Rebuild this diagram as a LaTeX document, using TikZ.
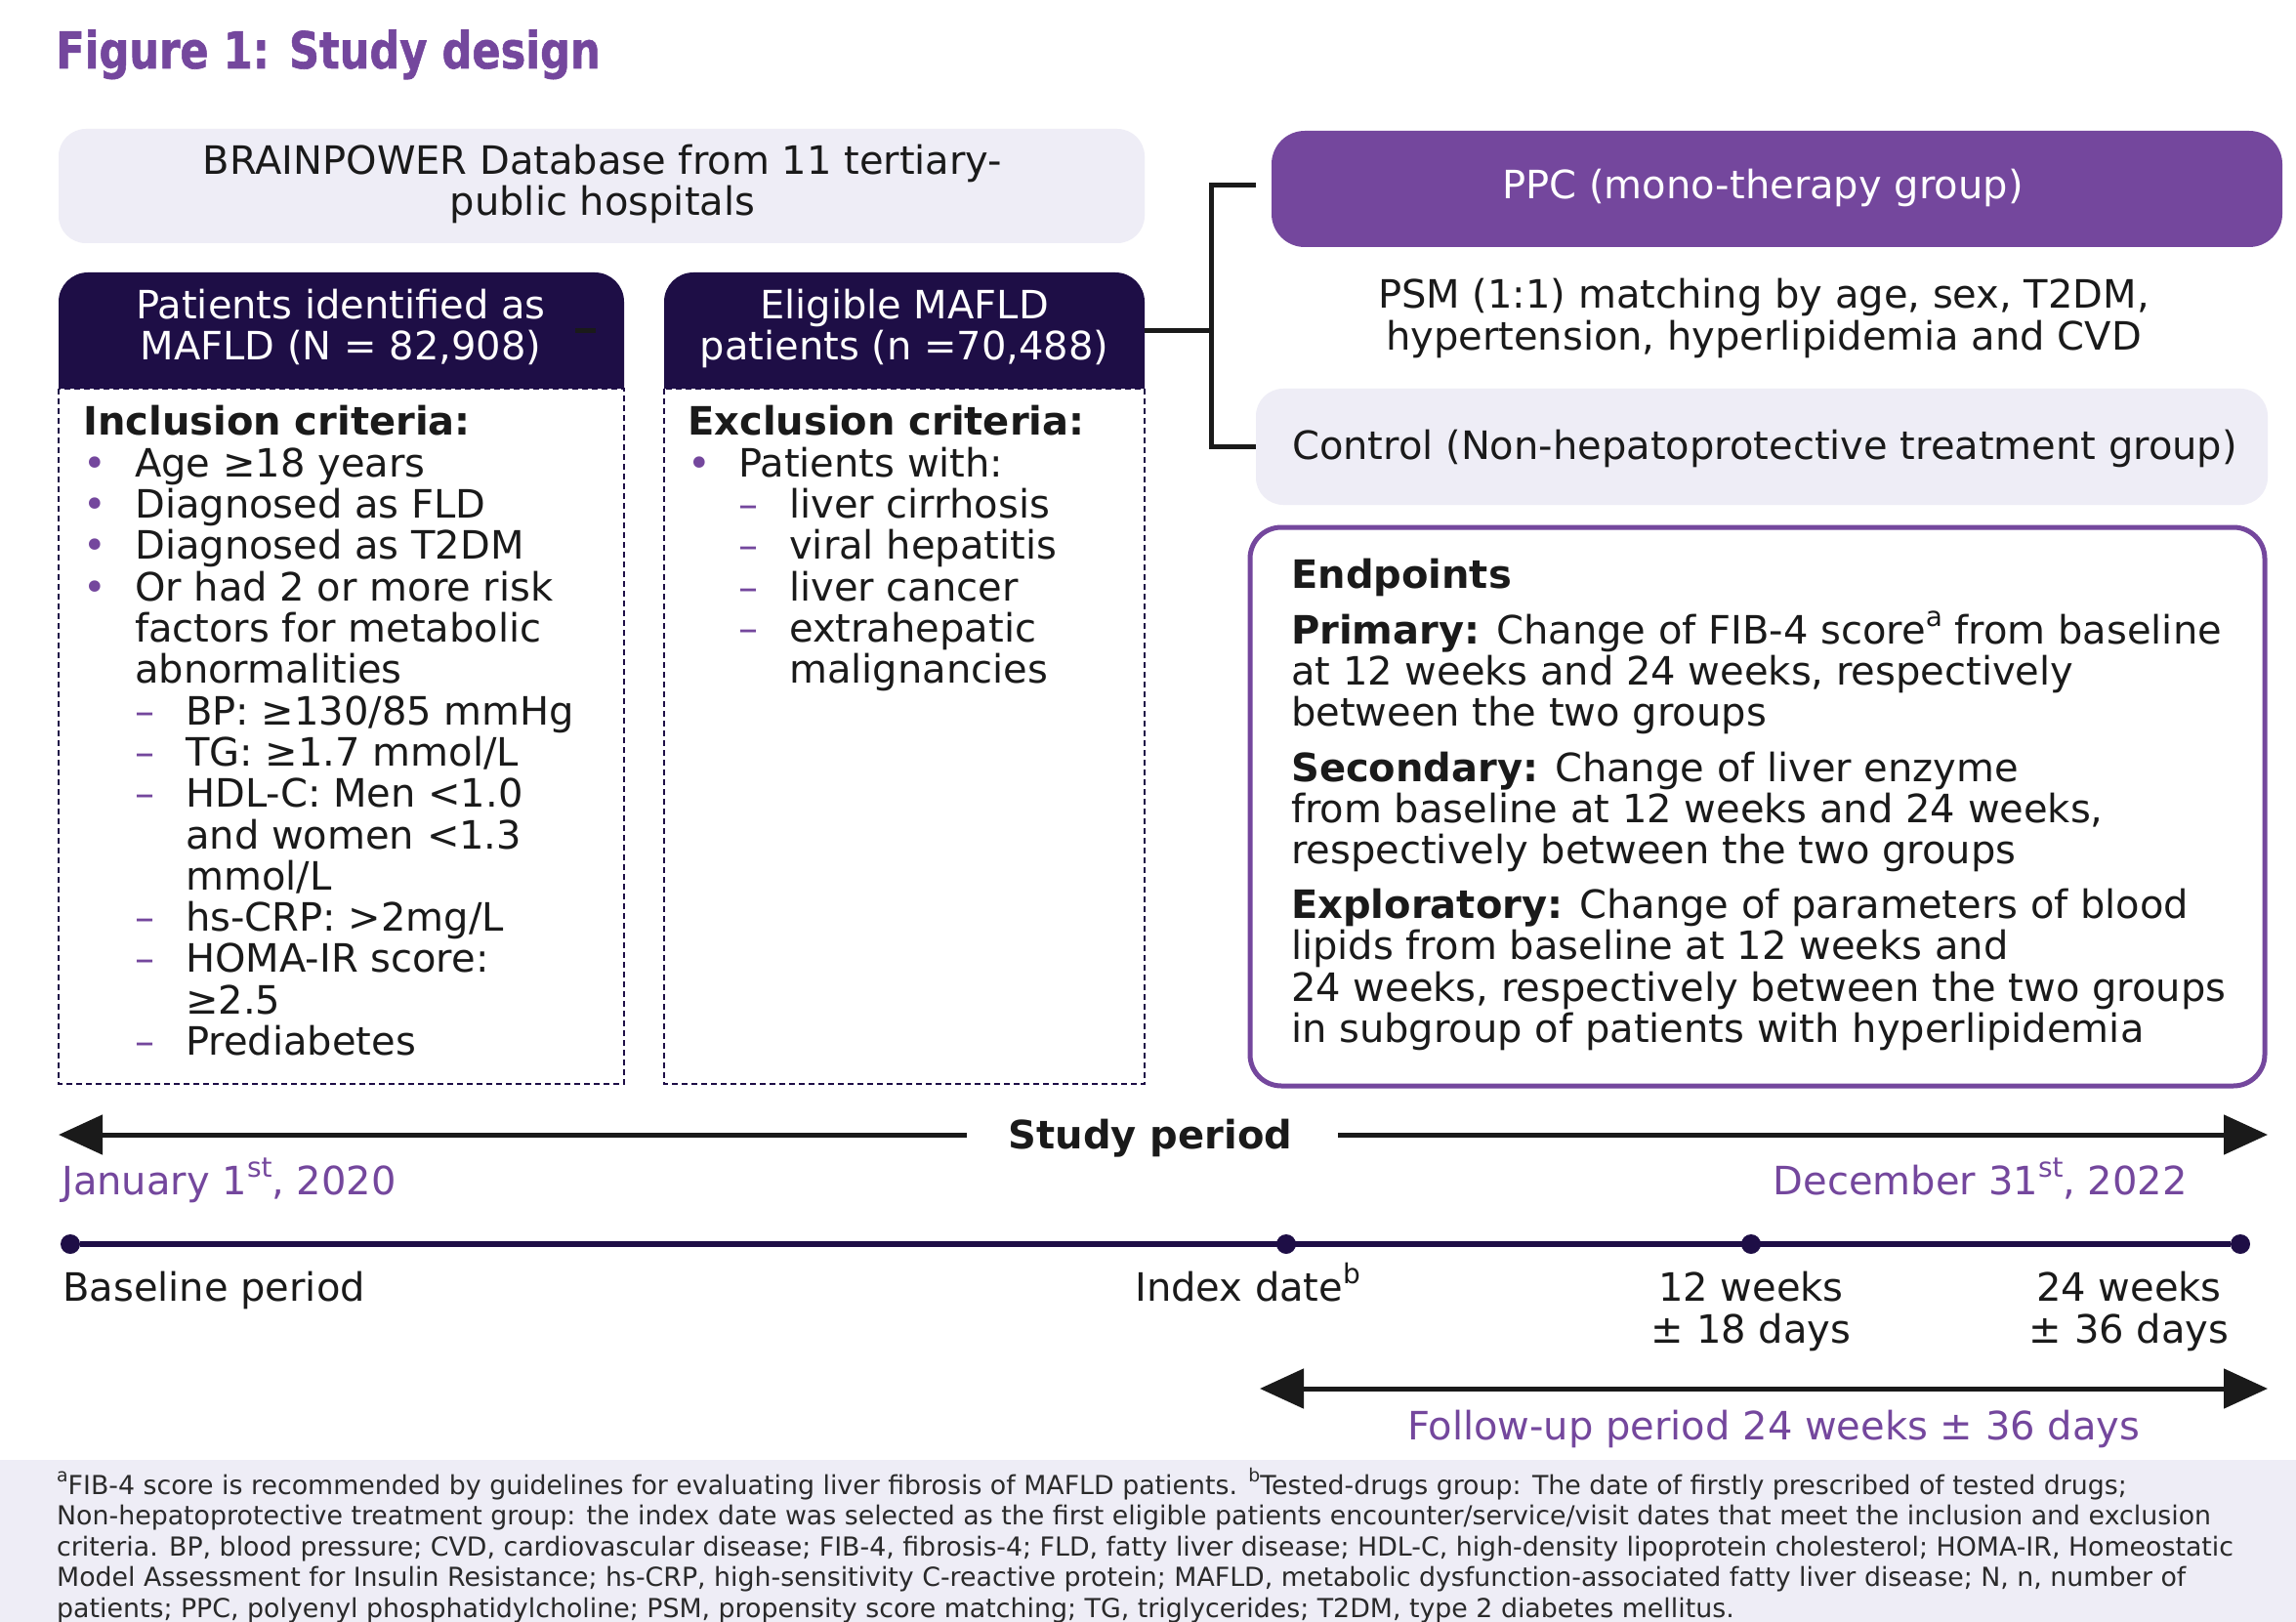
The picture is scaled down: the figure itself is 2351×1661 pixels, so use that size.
\documentclass[tikz,border=0pt]{standalone}
\usepackage{fontspec}
\setmainfont{DejaVu Sans}
\newfontfamily\titlefont{DejaVu Sans Bold}[FakeBold=1.2]
\usepackage{graphicx}
\usetikzlibrary{arrows.meta}
\definecolor{ppurple}{HTML}{74479D}
\definecolor{navy}{HTML}{1E0E46}
\definecolor{lav}{HTML}{EEEDF6}
\definecolor{tblack}{HTML}{1A1A1A}
\definecolor{fgray}{HTML}{2A2A2A}
\newcommand\supr[1]{\raisebox{0.45em}{\scalebox{0.7}{#1}}}
\newcommand\pp{\color{ppurple}}
\begin{document}
\begin{tikzpicture}[x=1pt,y=-1pt,
  txt/.style={font=\fontsize{40}{42.3}\selectfont, text=tblack, inner sep=0pt},
  wtxt/.style={txt, text=white},
  ptxt/.style={txt, text=ppurple},
  btxt/.style={txt, font=\fontsize{40}{42.3}\selectfont\bfseries},
  fn/.style={font=\fontsize{26.8}{30}\selectfont, text=fgray, inner sep=0pt, anchor=base west},
  lbox/.style={fill=lav, rounded corners=28pt, inner sep=0pt},
  pbox/.style={fill=ppurple, rounded corners=34pt, inner sep=0pt},
  dbox/.style={draw=navy, line width=2.5pt, dash pattern=on 6pt off 4pt},
  ebox/.style={draw=ppurple, line width=5pt, rounded corners=32pt, inner sep=0pt},
  bline/.style={draw=tblack, line width=5pt},
  arr/.style={draw=tblack, line width=5pt, -{Triangle[length=45pt,width=40pt]}},
  arrb/.style={draw=tblack, line width=5pt, {Triangle[length=45pt,width=40pt]}-{Triangle[length=45pt,width=40pt]}},
  dot/.style={circle, fill=navy, minimum size=20pt, inner sep=0pt},
]
\useasboundingbox (0,0) rectangle (2351,1661);
\fill[white] (0,0) rectangle (2351,1661);
\fill[lav] (0,1495) rectangle (2351,1661);

% title
\node[anchor=base west, inner sep=0pt, text=ppurple, font=\fontsize{52}{52}\titlefont] (title) at (57,70) {\scalebox{0.83}[1]{Figure 1: Study design}};

% database box
\node[lbox, minimum width=1112pt, minimum height=117pt] (brain) at (616,190.5) {};
\node[txt, anchor=base] (brain1) at (617,179) {BRAINPOWER Database from 11 tertiary-};
\node[txt, anchor=base] (brain2) at (617,221) {public hospitals};

% headers
\fill[navy] (60,398) [rounded corners=30pt] -- (60,279) -- (639,279) [sharp corners] -- (639,398) -- cycle;
\fill[navy] (680,398) [rounded corners=30pt] -- (680,279) -- (1172,279) [sharp corners] -- (1172,398) -- cycle;
\node[wtxt, anchor=base] (h1a) at (349,327) {Patients identified as};
\node[wtxt, anchor=base] (h1b) at (349,369) {MAFLD (N = 82,908)};
\node[wtxt, anchor=base] (h2a) at (926,327) {Eligible MAFLD};
\node[wtxt, anchor=base] (h2b) at (926,369) {patients (n =70,488)};
\coordinate (s1) at (589,338.5);
\coordinate (s2) at (610,338.5);
\draw[bline] (s1) -- (s2);

% dashed boxes
\draw[dbox] (60,398) rectangle (639,1110);
\draw[dbox] (680,398) rectangle (1172,1110);

% inclusion
\node[btxt, anchor=base west] (in0) at (85,446) {Inclusion criteria:};
\node[txt, anchor=base west] (in1) at (85,488.3) {\makebox[53pt][l]{\pp •}Age ≥18 years};
\node[txt, anchor=base west] (in2) at (85,530.6) {\makebox[53pt][l]{\pp •}Diagnosed as FLD};
\node[txt, anchor=base west] (in3) at (85,572.9) {\makebox[53pt][l]{\pp •}Diagnosed as T2DM};
\node[txt, anchor=base west] (in4) at (85,615.2) {\makebox[53pt][l]{\pp •}Or had 2 or more risk};
\node[txt, anchor=base west] (in5) at (138,657.5) {factors for metabolic};
\node[txt, anchor=base west] (in6) at (138,699.8) {abnormalities};
\node[txt, anchor=base west] (in7) at (138,742.1) {\makebox[52pt][l]{\pp –}BP: ≥130/85 mmHg};
\node[txt, anchor=base west] (in8) at (138,784.4) {\makebox[52pt][l]{\pp –}TG: ≥1.7 mmol/L};
\node[txt, anchor=base west] (in9) at (138,826.7) {\makebox[52pt][l]{\pp –}HDL-C: Men <1.0};
\node[txt, anchor=base west] (in10) at (190,869) {and women <1.3};
\node[txt, anchor=base west] (in11) at (190,911.3) {mmol/L};
\node[txt, anchor=base west] (in12) at (138,953.6) {\makebox[52pt][l]{\pp –}hs-CRP: >2mg/L};
\node[txt, anchor=base west] (in13) at (138,995.9) {\makebox[52pt][l]{\pp –}HOMA-IR score:};
\node[txt, anchor=base west] (in14) at (190,1038.2) {≥2.5};
\node[txt, anchor=base west] (in15) at (138,1080.5) {\makebox[52pt][l]{\pp –}Prediabetes};

% exclusion
\node[btxt, anchor=base west] (ex0) at (704,446) {Exclusion criteria:};
\node[txt, anchor=base west] (ex1) at (704,488.3) {\makebox[52pt][l]{\pp •}Patients with:};
\node[txt, anchor=base west] (ex2) at (756,530.6) {\makebox[52pt][l]{\pp –}liver cirrhosis};
\node[txt, anchor=base west] (ex3) at (756,572.9) {\makebox[52pt][l]{\pp –}viral hepatitis};
\node[txt, anchor=base west] (ex4) at (756,615.2) {\makebox[52pt][l]{\pp –}liver cancer};
\node[txt, anchor=base west] (ex5) at (756,657.5) {\makebox[52pt][l]{\pp –}extrahepatic};
\node[txt, anchor=base west] (ex6) at (808,699.8) {malignancies};

% right side
\node[pbox, minimum width=1035pt, minimum height=119pt] (ppc) at (1819.5,193.5) {};
\node[wtxt, anchor=base] (ppct) at (1805,204) {PPC (mono-therapy group)};
\node[txt, anchor=base] (psm1) at (1806,316) {PSM (1:1) matching by age, sex, T2DM,};
\node[txt, anchor=base] (psm2) at (1806,359) {hypertension, hyperlipidemia and CVD};
\node[lbox, minimum width=1036pt, minimum height=119pt] (ctl) at (1804,457.5) {};
\node[txt, anchor=base] (ctlt) at (1807,471) {Control (Non-hepatoprotective treatment group)};

% bracket
\coordinate (hdr2e) at (1172,338.5);
\coordinate (jn) at (1240,338.5);
\coordinate (ppcstub) at (1286,190);
\draw[bline] (hdr2e) -- (jn);
\draw[bline] (ppcstub) -- (1240,190) -- (1240,457.5) -- (ctl.west);

% endpoints
\node[ebox, minimum width=1039pt, minimum height=572pt] (endp) at (1799.5,826) {};
\node[btxt, anchor=base west] (ep0) at (1322,602) {Endpoints};
\node[txt, anchor=base west] (ep1) at (1322,659) {\textbf{Primary:} Change of FIB-4 score\supr{a} from baseline};
\node[txt, anchor=base west] (ep2) at (1322,701) {at 12 weeks and 24 weeks, respectively};
\node[txt, anchor=base west] (ep3) at (1322,743) {between the two groups};
\node[txt, anchor=base west] (ep4) at (1322,800) {\textbf{Secondary:} Change of liver enzyme};
\node[txt, anchor=base west] (ep5) at (1322,842) {from baseline at 12 weeks and 24 weeks,};
\node[txt, anchor=base west] (ep6) at (1322,884) {respectively between the two groups};
\node[txt, anchor=base west] (ep7) at (1322,940) {\textbf{Exploratory:} Change of parameters of blood};
\node[txt, anchor=base west] (ep8) at (1322,982) {lipids from baseline at 12 weeks and};
\node[txt, anchor=base west] (ep9) at (1322,1025) {24 weeks, respectively between the two groups};
\node[txt, anchor=base west] (ep10) at (1322,1067) {in subgroup of patients with hyperlipidemia};

% study period
\coordinate (spa) at (990,1162);
\coordinate (spL) at (60,1162);
\coordinate (spb) at (1370,1162);
\coordinate (spR) at (2322,1162);
\draw[arr] (spa) -- (spL);
\draw[arr] (spb) -- (spR);
\node[btxt, anchor=base] (sp) at (1178,1176) {Study period};
\node[ptxt, anchor=base west] (jan) at (63,1223) {January 1\supr{st}, 2020};
\node[ptxt, anchor=base east] (dec) at (2240,1223) {December 31\supr{st}, 2022};

% timeline
\node[dot] (t0) at (72,1274) {};
\node[dot] (t1) at (1317,1274) {};
\node[dot] (t2) at (1793,1274) {};
\node[dot] (t3) at (2294,1274) {};
\draw[navy, line width=6pt] (t0) -- (t3);
\node[txt, anchor=base west] (lb0) at (64,1332) {Baseline period};
\node[txt, anchor=base west] (lb1) at (1162,1332) {Index date\supr{b}};
\node[txt, anchor=base] (lb2a) at (1793,1332) {12 weeks};
\node[txt, anchor=base] (lb2b) at (1793,1375) {± 18 days};
\node[txt, anchor=base] (lb3a) at (2180,1332) {24 weeks};
\node[txt, anchor=base] (lb3b) at (2180,1375) {± 36 days};

% follow-up
\coordinate (fu1) at (1290,1422);
\coordinate (fu2) at (2322,1422);
\draw[arrb] (fu1) -- (fu2);
\node[ptxt, anchor=base] (fu) at (1816,1474) {Follow-up period 24 weeks ± 36 days};

% footnotes
\node[fn] (f1) at (58,1530) {\supr{a}FIB-4 score is recommended by guidelines for evaluating liver fibrosis of MAFLD patients. \supr{b}Tested-drugs group: The date of firstly prescribed of tested drugs;};
\node[fn] (f2) at (58,1561.5) {Non-hepatoprotective treatment group: the index date was selected as the first eligible patients encounter/service/visit dates that meet the inclusion and exclusion};
\node[fn] (f3) at (58,1593) {criteria. BP, blood pressure; CVD, cardiovascular disease; FIB-4, fibrosis-4; FLD, fatty liver disease; HDL-C, high-density lipoprotein cholesterol; HOMA-IR, Homeostatic};
\node[fn] (f4) at (58,1624.5) {Model Assessment for Insulin Resistance; hs-CRP, high-sensitivity C-reactive protein; MAFLD, metabolic dysfunction-associated fatty liver disease; N, n, number of};
\node[fn] (f5) at (58,1656) {patients; PPC, polyenyl phosphatidylcholine; PSM, propensity score matching; TG, triglycerides; T2DM, type 2 diabetes mellitus.};
\end{tikzpicture}
\end{document}
